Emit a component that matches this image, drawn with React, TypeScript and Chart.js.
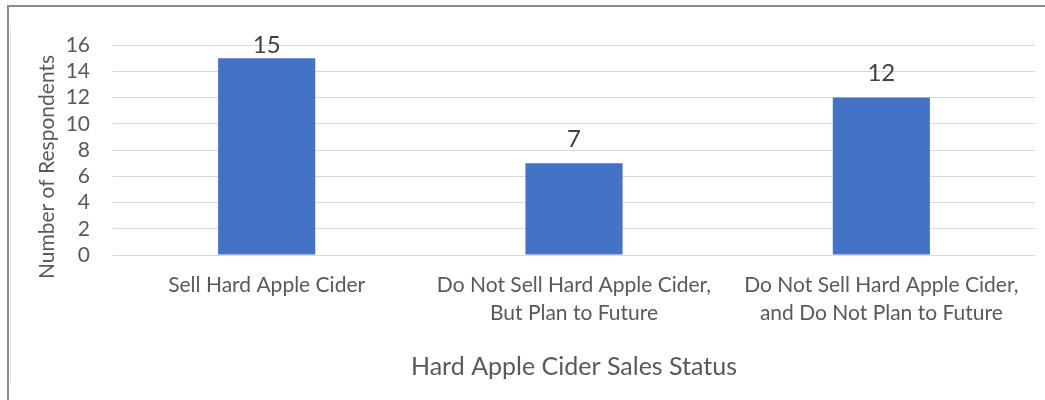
import React, { useEffect, useRef } from "react";
import { Chart, registerables } from "chart.js";

Chart.register(...registerables);

const categories: string[][] = [
  ["Sell Hard Apple Cider"],
  ["Do Not Sell Hard Apple Cider,", "But Plan to Future"],
  ["Do Not Sell Hard Apple Cider,", "and Do Not Plan to Future"],
];
const respondents: number[] = [15, 7, 12];
const yMin = 0;
const yMax = 16;
const yStep = 2;
const xTitle = "Hard Apple Cider Sales Status";
const yTitle = "Number of Respondents";

const FONT = "Lato, 'Open Sans', sans-serif";
const TEXT = "#595959";

const dataLabelPlugin = {
  id: "dataLabels",
  afterDatasetsDraw(chart: any) {
    const ctx = chart.ctx;
    const meta = chart.getDatasetMeta(0);
    ctx.save();
    ctx.font = `24px ${FONT}`;
    ctx.fillStyle = "#404040";
    ctx.textAlign = "center";
    ctx.textBaseline = "middle";
    meta.data.forEach((bar: any, i: number) => {
      const y = Math.max(bar.y - 24, chart.chartArea.top);
      ctx.fillText(String(respondents[i]), bar.x, y);
    });
    ctx.restore();
  },
};

const yTitlePlugin = {
  id: "yTitle",
  afterDraw(chart: any) {
    const ctx = chart.ctx;
    const a = chart.chartArea;
    ctx.save();
    ctx.font = `21px ${FONT}`;
    ctx.fillStyle = TEXT;
    ctx.textAlign = "center";
    ctx.textBaseline = "middle";
    ctx.translate(47, (a.top + a.bottom) / 2 + 17);
    ctx.rotate(-Math.PI / 2);
    ctx.fillText(yTitle, 0, 0);
    ctx.restore();
  },
};

export default function App() {
  const ref = useRef<HTMLCanvasElement | null>(null);

  useEffect(() => {
    if (!ref.current) return;
    const chart = new Chart(ref.current, {
      type: "bar",
      data: {
        labels: categories,
        datasets: [
          {
            data: respondents,
            backgroundColor: "#4472C4",
            borderWidth: 0,
            categoryPercentage: 1,
            barPercentage: 0.316,
          },
        ],
      },
      options: {
        responsive: false,
        animation: false,
        layout: { padding: { top: 45, right: 10, bottom: 0, left: 0 } },
        plugins: {
          legend: { display: false },
          tooltip: { enabled: false },
        },
        scales: {
          x: {
            grid: { display: false, drawTicks: false },
            border: { display: false },
            ticks: {
              color: TEXT,
              font: { family: FONT, size: 21, lineHeight: 1.33 },
              padding: 16,
              maxRotation: 0,
              autoSkip: false,
            },
            title: {
              display: true,
              text: xTitle,
              color: TEXT,
              font: { family: FONT, size: 25 },
              padding: { top: 0, bottom: 18 },
            },
            afterFit(scale: any) {
              scale.height = 145;
            },
          },
          y: {
            min: yMin,
            max: yMax,
            grid: { color: "#d9d9d9", lineWidth: 1, drawTicks: false },
            border: { display: false },
            ticks: {
              stepSize: yStep,
              autoSkip: false,
              color: TEXT,
              font: { family: FONT, size: 21 },
              padding: 23,
            },
            afterFit(scale: any) {
              scale.width = 113;
            },
          },
        },
      },
      plugins: [dataLabelPlugin, yTitlePlugin],
    });
    return () => chart.destroy();
  }, []);

  return (
    <div style={{ position: "absolute", left: 0, top: 0, width: 1045, height: 400, background: "#fff", overflow: "hidden" }}>
      <canvas ref={ref} width={1045} height={400} style={{ position: "absolute", left: 0, top: 0 }} />
      <div
        style={{
          position: "absolute",
          left: 7,
          top: 5,
          width: 1045,
          height: 400,
          borderTop: "2px solid #8a8a8a",
          borderLeft: "2px solid #8a8a8a",
          pointerEvents: "none",
        }}
      />
      <div style={{ position: "absolute", left: 10, top: 27, width: 1, height: 356, background: "#e6e6e6" }} />
    </div>
  );
}
